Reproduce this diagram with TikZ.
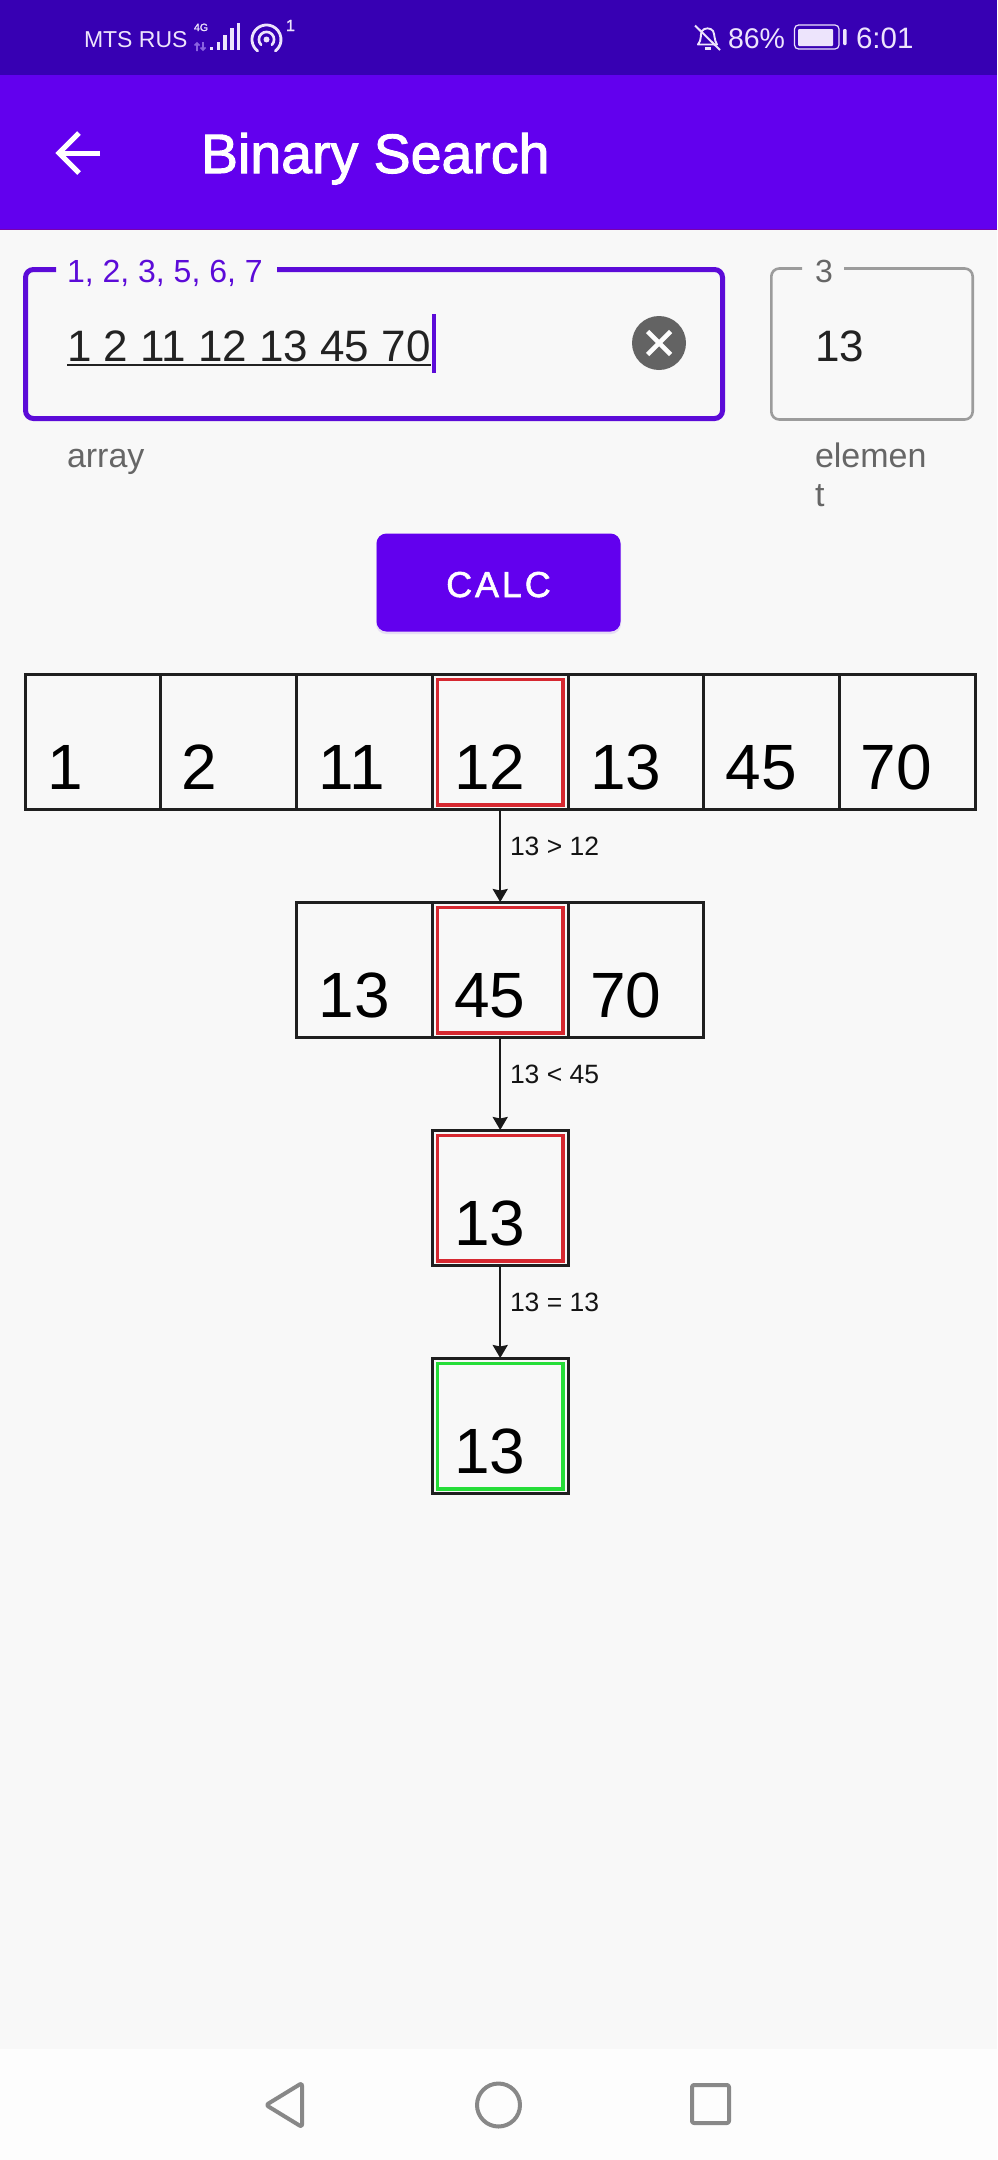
\documentclass[tikz,border=0pt]{standalone}
\usepackage{fontspec}
\setmainfont{Liberation Sans}
\newfontfamily\medfont[FakeBold=1.8]{Liberation Sans}
\newfontfamily\spacedfont[FakeBold=1.5,LetterSpace=8]{Liberation Sans}
\usetikzlibrary{arrows.meta}
\newcommand{\pxf}[1]{\fontsize{#1}{#1}\selectfont}
\definecolor{statusbg}{HTML}{3700B3}
\definecolor{appbg}{HTML}{6200EE}
\definecolor{pagebg}{HTML}{F8F8F8}
\definecolor{navbg}{HTML}{FDFDFD}
\definecolor{navgray}{HTML}{888888}
\definecolor{statustx}{HTML}{EDE4FC}
\definecolor{dimtx}{HTML}{8A63E0}
\definecolor{fieldpurple}{HTML}{5C0BD8}
\definecolor{fieldgray}{HTML}{9C9C9C}
\definecolor{hinttx}{HTML}{666666}
\definecolor{clearicon}{HTML}{636363}
\definecolor{inputtx}{HTML}{222222}
\definecolor{marksred}{HTML}{D62830}
\definecolor{marksgreen}{HTML}{25DD38}
\definecolor{btnshadow}{HTML}{E6DCF6}
\tikzset{
  txt/.style={anchor=base west,inner sep=0pt,outer sep=0pt},
  stat/.style={txt,text=statustx,font=\pxf{#1}},
  stat/.default=28.5,
  cellbox/.style={draw=black!88,line width=3pt,minimum width=135.8pt,minimum height=135.5pt,inner sep=0pt,outer sep=0pt,anchor=north west},
  cellnum/.style={txt,text=black,font=\pxf{64}},
  markred/.style={draw=marksred,line width=3.4pt,fill=none},
  markgreen/.style={draw=marksgreen,line width=3.4pt,fill=none},
  stepline/.style={draw=black!90,line width=2.2pt,-{Stealth[length=13pt,width=15pt,inset=1.5pt]}},
  steplabel/.style={txt,text=black!92,font=\pxf{26.5}},
  navicon/.style={draw=navgray,line width=4pt,line join=round,fill=none},
  hint/.style={txt,text=hinttx,font=\pxf{34}}
}
\begin{document}
\begin{tikzpicture}[x=1pt,y=-1pt]
\useasboundingbox (0,0) rectangle (997,2160);
\fill[pagebg] (0,0) rectangle (997,2160);
% bars
\fill[statusbg] (0,0) rectangle (997,75);
\fill[appbg] (0,75) rectangle (997,229);
\fill[black!10!appbg!80!red] (0,228.5) rectangle (997,230);
\fill[navbg] (0,2049) rectangle (997,2160);
% status left
\node[stat=23] (carrier) at (84,47) {MTS RUS};
\node[txt,text=statustx,font=\medfont\pxf{10.5}] (fourg) at (194,31) {4G};
\draw[dimtx,line width=1.6pt] (197,51) -- (197,43) (194.5,45.5) -- (197,43) -- (199.5,45.5);
\draw[dimtx,line width=1.6pt] (203,42) -- (203,50) (200.5,47.5) -- (203,50) -- (205.5,47.5);
\foreach \x/\t in {210/46.5,216.7/41.7,223.4/35,230.1/28.3,236.8/23}
  \fill[statustx] (\x,\t) rectangle ++(3.4,50-\t);
\begin{scope}[shift={(266.5,39.5)},x=1pt,y=1pt]
  \draw[statustx,line width=2.8pt,line cap=round] (232:14.5) arc[start angle=232,delta angle=-284,radius=14.5];
  \draw[statustx,line width=2.6pt,line cap=round] (225:7.6) arc[start angle=225,delta angle=-270,radius=7.6];
  \fill[statustx] (0,0) circle[radius=3];
\end{scope}
\node[txt,text=statustx,font=\medfont\pxf{16}] (sim) at (286,31) {1};
% status right
\draw[statustx,line width=1.9pt,line join=round] (698,44.5) .. controls (702,40) and (700,34) .. (702,31) .. controls (704,27.5) and (711,27.5) .. (713,31) .. controls (715,35) and (714,40) .. (717,44.5) -- cycle;
\fill[statustx] (704.5,47) rectangle (710.5,49.5);
\draw[statustx,line width=2pt] (695,25.5) -- (720,50);
\node[stat] (batpct) at (728,48) {86\%};
\draw[statustx,line width=1.2pt,rounded corners=4pt] (794.5,25) rectangle (839,49);
\fill[statustx,rounded corners=1pt] (798,29) rectangle (833,46);
\fill[statustx,rounded corners=1pt] (843,29) rectangle (846.5,45);
\node[stat=29.5] (clock) at (856,48) {6:01};
% app bar
\draw[white,line width=5pt,line cap=butt] (100,153) -- (58,153);
\draw[white,line width=5pt,line join=miter] (79,133) -- (59,153) -- (79,173);
\node[txt,text=white,font=\medfont\pxf{55.5}] (title) at (201,173) {Binary Search};
% array field
\draw[fieldpurple,line width=5pt,rounded corners=8pt] (56,269.5) -- (25.5,269.5) -- (25.5,418.5) -- (722.5,418.5) -- (722.5,269.5) -- (277,269.5);
\node[txt,text=fieldpurple,font=\pxf{32}] (arrlabel) at (67,282) {1, 2, 3, 5, 6, 7};
\node[txt,text=inputtx,font=\pxf{44}] (arrinput) at (67,361) {1 2 11 12 13 45 70};
\fill[inputtx] (67,364) rectangle (431,366);
\fill[fieldpurple] (431.5,314) rectangle (435.5,373);
\node[circle,fill=clearicon,minimum size=54pt,inner sep=0pt] (clear) at (659,343) {};
\draw[navbg,line width=4.6pt] (647.5,331.5) -- (670.5,354.5) (647.5,354.5) -- (670.5,331.5);
\node[hint] (arrhint) at (67,467) {array};
% element field
\draw[fieldgray,line width=2.6pt,rounded corners=8pt] (802,268.5) -- (771.3,268.5) -- (771.3,419.5) -- (972.7,419.5) -- (972.7,268.5) -- (844,268.5);
\node[txt,text=hinttx,font=\pxf{32}] (ellabel) at (815,282) {3};
\node[txt,text=inputtx,font=\pxf{44}] (elinput) at (815,361) {13};
\node[hint] (elhint1) at (815,467) {elemen};
\node[hint] (elhint2) at (815,506) {t};
% button
\fill[btnshadow,rounded corners=10pt] (376,534) rectangle (621,634);
\node[draw=none,fill=appbg,rounded corners=10pt,minimum width=244pt,minimum height=98pt,inner sep=0pt] (calc) at (498.5,582.5) {};
\node[anchor=base,inner sep=0pt,text=white,font=\spacedfont\pxf{36}] (calctext) at (498.5,597) {CALC};
% row 1
\foreach \n/\x/\t/\o in {a1/25/1/22,a2/160.8/2/21,a3/296.5/11/22,a4/432.3/12/22,a5/568/13/22,a6/703.8/45/22,a7/839.5/70/21}{
  \node[cellbox] (\n) at (\x,674) {};
  \node[cellnum] (\n t) at (\x+\o,789) {\t};
}
\draw[markred] (437.5,679.5) rectangle (563,805);
% row 2
\foreach \n/\x/\t/\o in {b1/296.5/13/22,b2/432.3/45/22,b3/568/70/22}{
  \node[cellbox] (\n) at (\x,902) {};
  \node[cellnum] (\n t) at (\x+\o,1017) {\t};
}
\draw[markred] (437.5,907.5) rectangle (563,1033);
% row 3
\node[cellbox] (c1) at (432.3,1130) {};
\node[cellnum] (c1t) at (454.3,1245) {13};
\draw[markred] (437.5,1135.5) rectangle (563,1261);
% row 4
\node[cellbox] (d1) at (432.3,1358) {};
\node[cellnum] (d1t) at (454.3,1473) {13};
\draw[markgreen] (437.5,1363.5) rectangle (563,1489);
% connectors
\draw[stepline] (a4.south) -- (b2.north);
\draw[stepline] (b2.south) -- (c1.north);
\draw[stepline] (c1.south) -- (d1.north);
\node[steplabel] (l1) at (510,855) {13 > 12};
\node[steplabel] (l2) at (510,1083) {13 < 45};
\node[steplabel] (l3) at (510,1311) {13 = 13};
% nav
\draw[navicon,rounded corners=2.5pt] (266,2105) -- (302,2083) -- (302,2127) -- cycle;
\node[navicon,circle,minimum size=43pt,inner sep=0pt] (home) at (498.5,2105) {};
\draw[navicon,rounded corners=2pt] (692,2085) rectangle (729,2123);
\end{tikzpicture}
\end{document}
